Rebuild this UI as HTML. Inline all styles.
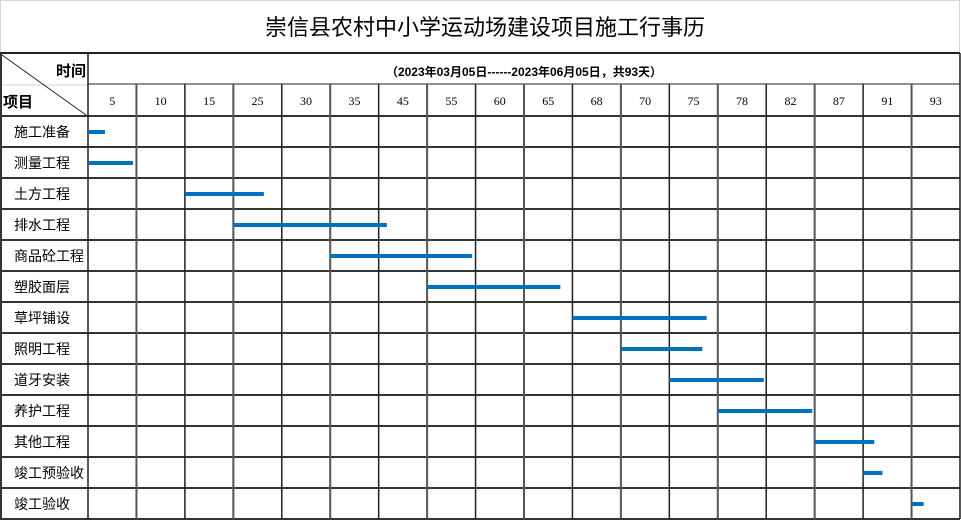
<!DOCTYPE html>
<html><head><meta charset="utf-8"><style>
body{margin:0;background:#fff;}
svg{display:block;font-family:"Liberation Sans","Noto Sans CJK SC",sans-serif;}
</style></head><body>
<svg id="chart" width="961" height="520" viewBox="0 0 961 520" xmlns="http://www.w3.org/2000/svg">
<rect x="0.5" y="0.5" width="959" height="519" fill="#fff" stroke="#d8d8e0"/>
<text x="485" y="35" text-anchor="middle" font-size="22" fill="#000">崇信县农村中小学运动场建设项目施工行事历</text>
<g id="grid"></g>
<g id="bars"></g>
<g id="labels"></g>
</svg>
<script>
const ticks = [5,10,15,25,30,35,45,55,60,65,68,70,75,78,82,87,91,93];
const tasks = ["施工准备","测量工程","土方工程","排水工程","商品砼工程","塑胶面层","草坪铺设","照明工程","道牙安装","养护工程","其他工程","竣工预验收","竣工验收"];
// start / end in column units (column index along the tick header)
const starts = [0,0,2,3,5,7,10,11,12,13,15,16,17];
const ends = [0.35,0.93,3.63,6.17,7.93,9.75,12.77,12.68,13.95,14.95,16.23,16.4,17.25];

const NS="http://www.w3.org/2000/svg";
const x0=88, colW=(960-88)/ticks.length, topY=53, hdr2=84, rowsTop=116, rowH=31;
const xs=v=>x0+v*colW, ys=i=>rowsTop+i*rowH;
function mk(tag,attrs,parent,txt){const e=document.createElementNS(NS,tag);for(const k in attrs)e.setAttribute(k,attrs[k]);if(txt!==undefined)e.textContent=txt;parent.appendChild(e);return e;}
const grid=document.getElementById('grid'),bars=document.getElementById('bars'),labels=document.getElementById('labels');
const bottomY=ys(tasks.length);
let l=mk('line',{x1:0,y1:topY,x2:960,y2:topY,stroke:'#222','stroke-width':2},grid);


l=mk('line',{x1:0,y1:hdr2+1,x2:88,y2:hdr2+1,stroke:'#d0d0dc','stroke-width':1},grid);


l=mk('line',{x1:88,y1:hdr2,x2:960,y2:hdr2,stroke:'#222','stroke-width':1},grid);


for(let i=0;i<=tasks.length;i++){
  l=mk('line',{x1:0,y1:ys(i),x2:960,y2:ys(i),stroke:'#333','stroke-width':2},grid);
  
  
}
l=mk('line',{x1:1,y1:topY,x2:1,y2:bottomY,stroke:'#333','stroke-width':2},grid);


for(let c=0;c<=ticks.length;c++){
  const x=xs(c);
  l=mk('line',{x1:x,y1:c===0||c===ticks.length?topY:hdr2,x2:x,y2:bottomY,stroke:c%2===1?'#555':'#222','stroke-width':c%2===1?2:1.5},grid);
  
  
}
l=mk('line',{x1:2,y1:55,x2:86,y2:115,stroke:'#222','stroke-width':1},grid);


let t=mk('text',{x:86,y:76,'text-anchor':'end','font-size':15,'font-weight':'bold'},labels,'时间');


t=mk('text',{x:3,y:107,'font-size':15,'font-weight':'bold'},labels,'项目');


t=mk('text',{x:524,y:76,'text-anchor':'middle','font-size':12,'font-weight':'bold'},labels,'（2023年03月05日------2023年06月05日，共93天）');


ticks.forEach((v,i)=>{
  const e=mk('text',{x:xs(i+0.5),y:105,'text-anchor':'middle','font-size':12,'font-family':'"Liberation Serif",serif'},labels,String(v));
  
  
});
tasks.forEach((n,i)=>{
  const e=mk('text',{x:14,y:ys(i)+21,'font-size':14},labels,n);
  
  
  const b=mk('rect',{x:xs(starts[i]),y:ys(i)+14,width:xs(ends[i])-xs(starts[i]),height:4,fill:'#0070c0'},bars);
  
  
});
</script>
</body></html>
